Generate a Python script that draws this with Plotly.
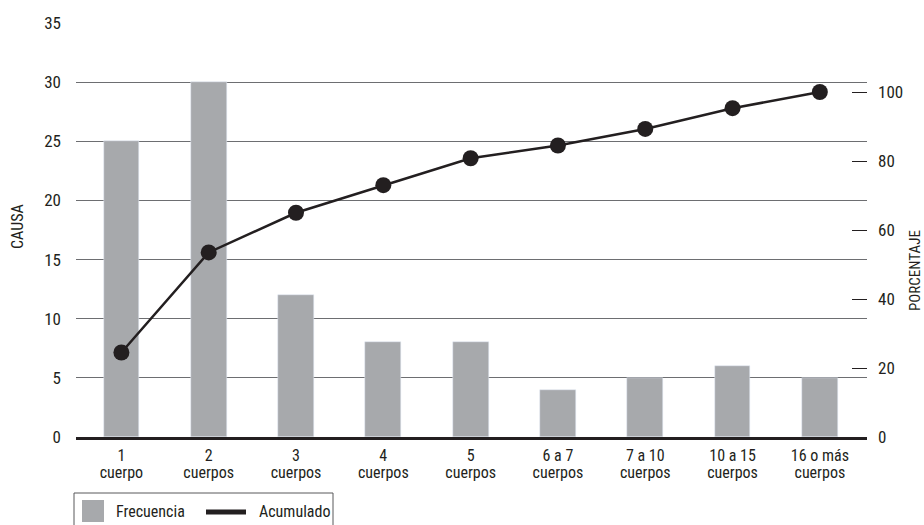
import plotly.graph_objects as go

cat_line1 = ["1", "2", "3", "4", "5", "6 a 7", "7 a 10", "10 a 15", "16 o más"]
cat_line2 = ["cuerpo", "cuerpos", "cuerpos", "cuerpos", "cuerpos", "cuerpos", "cuerpos", "cuerpos", "cuerpos"]
frecuencia = [25, 30, 12, 8, 8, 4, 5, 6, 5]
acumulado = [24.5, 53.5, 65.0, 73.0, 80.8, 84.5, 89.3, 95.3, 100.0]
left_ticks = [0, 5, 10, 15, 20, 25, 30, 35]
right_ticks = [0, 20, 40, 60, 80, 100]

FONT = "Roboto Condensed, Liberation Sans, sans-serif"
INK = "#231f20"
BAR = "#a7a9ac"
GRID = "#6d6e71"

W, H = 924, 525
L, R, T, B = 76, 57, 23, 88
PW, PH = W - L - R, H - T - B

def px(x):
    return (x - L) / PW

def py(y):
    return (H - B - y) / PH

xpos = list(range(len(cat_line1)))

fig = go.Figure()
fig.add_trace(go.Bar(x=xpos, y=frecuencia, marker_color=BAR,
                     width=0.41, name="Frecuencia", showlegend=False))
fig.add_trace(go.Scatter(x=xpos, y=acumulado, yaxis="y2",
                         mode="lines+markers", line=dict(color=INK, width=2.5),
                         marker=dict(color=INK, size=16), name="Acumulado", showlegend=False))
# helper trace to activate the second x axis (second line of category labels)
fig.add_trace(go.Scatter(x=[xpos[0]], y=[frecuencia[0]], xaxis="x2", mode="markers",
                         marker=dict(opacity=0), showlegend=False, hoverinfo="skip"))

xr = [-0.52, 8.54]
fig.update_layout(
    width=W, height=H,
    margin=dict(l=L, r=R, t=T, b=B),
    plot_bgcolor="white", paper_bgcolor="white",
    font=dict(family=FONT, size=17, color=INK),
    xaxis=dict(tickmode="array", tickvals=xpos, ticktext=cat_line1,
               range=xr, showgrid=False, zeroline=False,
               showline=True, linecolor=INK, linewidth=3, ticks="", ticklabelstandoff=2,
               tickfont=dict(size=16)),
    xaxis2=dict(tickmode="array", tickvals=xpos, ticktext=cat_line2, overlaying="x",
                side="bottom", anchor="y", range=xr, showgrid=False, zeroline=False,
                showline=False, ticks="", ticklabelstandoff=24, tickfont=dict(size=16)),
    yaxis=dict(range=[0, 35], tickvals=left_ticks, showgrid=True, gridcolor=GRID, gridwidth=1.3,
               zeroline=False, showline=False, ticks="", ticklabelstandoff=14),
    yaxis2=dict(range=[0, 120], tickvals=right_ticks, overlaying="y", side="right",
                showgrid=False, zeroline=False, showline=False, ticks="inside", ticklen=15,
                tickcolor=INK, tickwidth=1.3, ticklabelstandoff=10),
    bargap=0,
)

fig.add_annotation(text="CAUSA", x=px(17), y=py(227), xref="paper", yref="paper",
                   xanchor="center", yanchor="middle",
                   textangle=-90, showarrow=False, font=dict(size=16))
fig.add_annotation(text="PORCENTAJE", x=px(915), y=py(271), xref="paper", yref="paper",
                   xanchor="center", yanchor="middle",
                   textangle=-90, showarrow=False, font=dict(size=15))

# legend
fig.add_shape(type="rect", xref="paper", yref="paper", x0=px(74), x1=px(333), y0=py(493), y1=py(540),
              line=dict(color="#58595b", width=1), fillcolor="white")
fig.add_shape(type="rect", xref="paper", yref="paper", x0=px(82), x1=px(104), y0=py(500), y1=py(522),
              line=dict(width=0), fillcolor=BAR)
fig.add_shape(type="line", xref="paper", yref="paper", x0=px(206), x1=px(246), y0=py(512), y1=py(512),
              line=dict(color=INK, width=5))
fig.add_annotation(text="Frecuencia", x=px(114), y=py(512), xref="paper", yref="paper",
                   xanchor="left", yanchor="middle", showarrow=False, font=dict(size=16))
fig.add_annotation(text="Acumulado", x=px(257), y=py(512), xref="paper", yref="paper",
                   xanchor="left", yanchor="middle", showarrow=False, font=dict(size=16))

fig.write_html("out.html", config={"displayModeBar": False},
               post_script="document.body.style.margin='0px';")
